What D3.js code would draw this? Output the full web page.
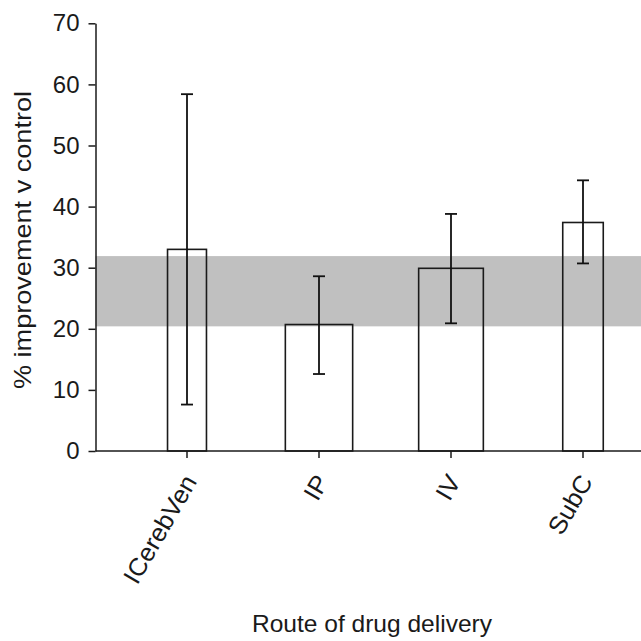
<!DOCTYPE html>
<html>
<head>
<meta charset="utf-8">
<script src="https://cdn.jsdelivr.net/npm/d3@7"></script>
<style>
  body { margin: 0; background: #fff; }
  svg { display: block; font-family: "Liberation Sans", Arial, sans-serif; }
  .axis path, .axis line { stroke: #1a1a1a; stroke-width: 1.5; }
</style>
</head>
<body>
<svg id="chart" width="641" height="641"></svg>
<script>
// --- Data ---------------------------------------
const routes = ["ICerebVen", "IP", "IV", "SubC"];
const improvement = [33.0, 20.7, 29.9, 37.4];
const errLow = [7.6, 12.6, 20.9, 30.7];
const errHigh = [58.4, 28.6, 38.8, 44.3];
const refBand = [20.4, 31.9];   // shaded control range
const yTicks = [0, 10, 20, 30, 40, 50, 60, 70];

// bar widths differ per route (fraction of band step)
const barFrac = [0.295, 0.51, 0.49, 0.307];

const W = 641, H = 641;
const svg = d3.select("#chart");

const y = d3.scaleLinear().domain([0, 70]).range([451, 23.3]);
const x = d3.scaleBand().domain(routes).range([121, 649]);
const axisX = 95.5;

// the original text is a bit wider than plain Arial, stretch it
function stretch(sel, k) {
  sel.each(function() {
    const len = this.getComputedTextLength();
    d3.select(this)
      .attr("textLength", len * k)
      .attr("lengthAdjust", "spacingAndGlyphs");
  });
}

// shaded band behind the bars
svg.append("rect")
  .attr("x", axisX)
  .attr("y", y(refBand[1]))
  .attr("width", W - axisX)
  .attr("height", y(refBand[0]) - y(refBand[1]))
  .attr("fill", "#c0c0c0");

const rows = routes.map((r, i) => ({
  route: r, v: improvement[i], lo: errLow[i], hi: errHigh[i], w: barFrac[i] * x.step()
}));
const cx = d => x(d.route) + x.bandwidth() / 2;

// bars: outline only, band shows through
svg.append("g").selectAll("rect")
  .data(rows)
  .join("rect")
  .attr("x", d => cx(d) - d.w / 2)
  .attr("y", d => y(d.v))
  .attr("width", d => d.w)
  .attr("height", d => y(0) - y(d.v))
  .attr("fill", "none")
  .attr("stroke", "#1a1a1a")
  .attr("stroke-width", 1.6);

// error bars
const err = svg.append("g").attr("stroke", "#111").attr("stroke-width", 1.8);
err.selectAll("line.v").data(rows).join("line")
  .attr("class", "v")
  .attr("x1", cx).attr("x2", cx)
  .attr("y1", d => y(d.hi)).attr("y2", d => y(d.lo));
err.selectAll("line.top").data(rows).join("line")
  .attr("class", "top")
  .attr("x1", d => cx(d) - 6).attr("x2", d => cx(d) + 6)
  .attr("y1", d => y(d.hi)).attr("y2", d => y(d.hi));
err.selectAll("line.bot").data(rows).join("line")
  .attr("class", "bot")
  .attr("x1", d => cx(d) - 6).attr("x2", d => cx(d) + 6)
  .attr("y1", d => y(d.lo)).attr("y2", d => y(d.lo));

// --- Axes ----------------------------------------
const yAxis = svg.append("g")
  .attr("class", "axis")
  .attr("transform", `translate(${axisX},0)`)
  .call(d3.axisLeft(y).tickValues(yTicks).tickSize(7).tickSizeOuter(0).tickPadding(9));
yAxis.selectAll("text")
  .attr("font-size", 24)
  .attr("fill", "#1a1a1a")
  .attr("font-family", null);

const xAxis = svg.append("g")
  .attr("class", "axis")
  .attr("transform", "translate(0,451)");
xAxis.append("line")
  .attr("x1", axisX).attr("x2", W)
  .attr("stroke", "#1a1a1a").attr("stroke-width", 1.5);
xAxis.selectAll("line.tick").data(rows).join("line")
  .attr("class", "tick")
  .attr("x1", cx).attr("x2", cx)
  .attr("y1", 0).attr("y2", 7)
  .attr("stroke", "#1a1a1a").attr("stroke-width", 1.5);
xAxis.selectAll("text").data(rows).join("text")
  .attr("transform", d => `translate(${cx(d) + 3},26) rotate(-60)`)
  .attr("dy", "0.35em")
  .attr("text-anchor", "end")
  .attr("font-size", 25)
  .attr("fill", "#1a1a1a")
  .text(d => d.route)
  .call(stretch, 1.02);

// axis titles
svg.append("text")
  .attr("transform", "translate(31,240) rotate(-90)")
  .attr("text-anchor", "middle")
  .attr("font-size", 24)
  .attr("fill", "#1a1a1a")
  .text("% improvement v control")
  .attr("textLength", 298)
  .attr("lengthAdjust", "spacingAndGlyphs");

svg.append("text")
  .attr("x", 372)
  .attr("y", 632)
  .attr("text-anchor", "middle")
  .attr("font-size", 24)
  .attr("fill", "#1a1a1a")
  .text("Route of drug delivery")
  .attr("textLength", 240)
  .attr("lengthAdjust", "spacingAndGlyphs");
</script>
</body>
</html>
